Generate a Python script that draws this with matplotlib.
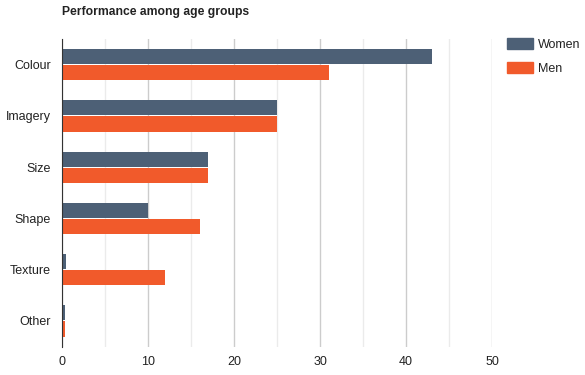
import numpy as np
import matplotlib
matplotlib.use("Agg")
import matplotlib.pyplot as plt
from matplotlib.patches import Patch

categories = ["Colour", "Imagery", "Size", "Shape", "Texture", "Other"]
women = [43, 25, 17, 10, 0.5, 0.3]
men = [31, 25, 17, 16, 12, 0.3]
xticks = [0, 10, 20, 30, 40, 50]

c_women = "#4d6076"
c_men = "#f15a2b"

plt.rcParams["font.family"] = ["Liberation Sans", "DejaVu Sans"]

fig = plt.figure(figsize=(5.85, 3.75), dpi=100)
ax = fig.add_axes([62 / 585, 28.4 / 375, 430 / 585, 307.6 / 375])

y = np.arange(len(categories))
h = 0.295
off = h / 2 + 0.01
ax.barh(y - off, women, height=h, color=c_women, zorder=3)
ax.barh(y + off, men, height=h, color=c_men, zorder=3)

ax.set_ylim(len(categories) - 0.5, -0.5)
ax.set_xlim(0, 50)
ax.set_yticks(y)
ax.set_yticklabels(categories)
ax.set_xticks(xticks)
ax.set_xticks(np.arange(5, 50, 10), minor=True)
ax.tick_params(axis="both", which="both", length=0, labelsize=9, colors="#222222", pad=7)
ax.tick_params(axis="y", pad=8)
ax.grid(axis="x", which="major", color="#cccccc", linewidth=1, zorder=0)
ax.grid(axis="x", which="minor", color="#ebebeb", linewidth=1, zorder=0)
for s in ["top", "right", "bottom"]:
    ax.spines[s].set_visible(False)
ax.spines["left"].set_color("#333333")
ax.spines["left"].set_zorder(4)

fig.text(62 / 585, 1 - 12 / 375, "Performance among age groups", fontsize=8.7,
         fontweight="bold", color="#222222", ha="left", va="center")

handles = [Patch(color=c_women), Patch(color=c_men)]
fig.legend(handles, ["Women", "Men"], loc="upper left", bbox_to_anchor=(507 / 585, 1 - 38 / 375),
           frameon=False, fontsize=9, handlelength=2.08, handleheight=0.96,
           handletextpad=0.4, labelspacing=0.9, borderaxespad=0, borderpad=0,
           labelcolor="#222222")

fig.savefig("out.png", dpi=100)
